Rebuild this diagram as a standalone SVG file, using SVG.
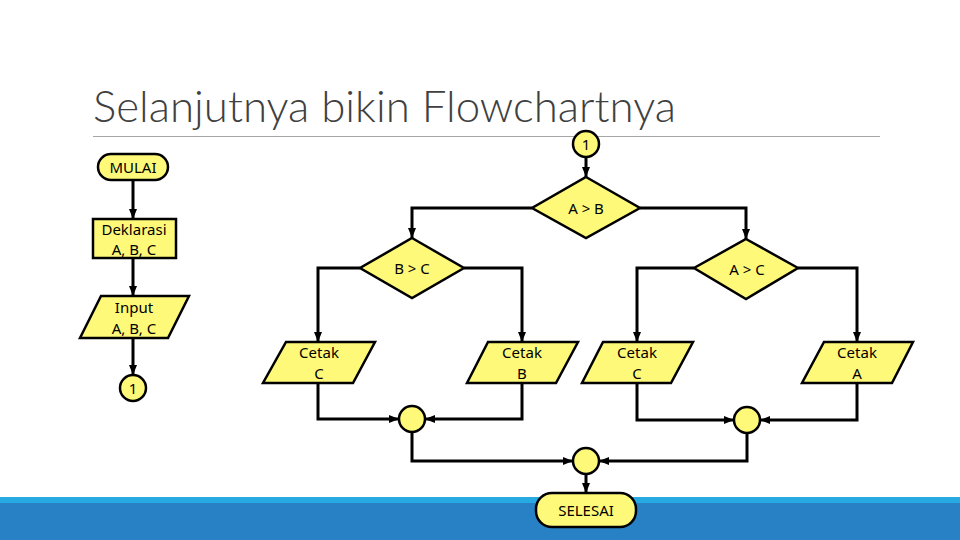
<svg xmlns="http://www.w3.org/2000/svg" width="960" height="540" viewBox="0 0 960 540">
<style>
.sh{fill:#FFF97A;stroke:#000;stroke-width:2.5}
.ln{fill:none;stroke:#000;stroke-width:3;marker-end:url(#ah)}
.t{font-family:"Noto Sans","DejaVu Sans",sans-serif;font-size:15px;fill:#000;text-anchor:middle;dominant-baseline:central}
</style>
<defs>
<marker id="ah" markerUnits="userSpaceOnUse" markerWidth="10" markerHeight="10" viewBox="0 0 10 10" refX="10" refY="5" orient="auto">
<path d="M0,1 L10,5 L0,9 Z" fill="#000"/>
</marker>
</defs>
<rect x="0" y="0" width="960" height="540" fill="#fff"/>
<rect x="0" y="497" width="960" height="7" fill="#27A9E1"/>
<rect x="0" y="503" width="960" height="37" fill="#2981C5"/>
<text x="93" y="122" font-family="Lato,'Open Sans',sans-serif" font-weight="300" font-size="43" textLength="583" lengthAdjust="spacingAndGlyphs" fill="#404040">Selanjutnya bikin Flowchartnya</text>
<line x1="93" y1="136.5" x2="880" y2="136.5" stroke="#A6A6A6" stroke-width="1"/>
<g id="connectors">
<path class="ln" d="M133,180 V219"/>
<path class="ln" d="M133,258 V296"/>
<path class="ln" d="M133,338 V375"/>
<path class="ln" d="M586,157 V177"/>
<path class="ln" d="M532,208 H412 V238"/>
<path class="ln" d="M640,208 H746 V239"/>
<path class="ln" d="M360,268 H318 V342"/>
<path class="ln" d="M464,268 H522 V342"/>
<path class="ln" d="M694,268 H637 V342"/>
<path class="ln" d="M798,268 H857 V342"/>
<path class="ln" d="M318,383 V419 H399"/>
<path class="ln" d="M522,383 V419 H425"/>
<path class="ln" d="M637,383 V420 H734"/>
<path class="ln" d="M857,383 V420 H760"/>
<path class="ln" d="M412,432 V461 H573"/>
<path class="ln" d="M747,433 V461 H599"/>
<path class="ln" d="M586,474 V493"/>
</g>
<g id="mulai"><rect class="sh" x="98" y="154" width="70" height="26" rx="13"/><text class="t" x="133" y="167">MULAI</text></g>
<g id="deklarasi"><rect class="sh" x="93" y="219" width="83" height="39"/><text class="t" x="134" y="229">Deklarasi</text><text class="t" x="134" y="249">A, B, C</text></g>
<g id="input"><polygon class="sh" points="101,296 189,296 168,338 80,338"/><text class="t" x="134" y="307">Input</text><text class="t" x="134" y="328">A, B, C</text></g>
<g id="con1a"><circle class="sh" cx="133" cy="388" r="13"/><text class="t" x="133" y="388">1</text></g>
<g id="con1b"><circle class="sh" cx="586" cy="144" r="13"/><text class="t" x="586" y="144">1</text></g>
<g id="ab"><polygon class="sh" points="586,177 640,208 586,238 532,208"/><text class="t" x="586" y="208">A &gt; B</text></g>
<g id="bc"><polygon class="sh" points="412,238 464,268 412,298 360,268"/><text class="t" x="412" y="268">B &gt; C</text></g>
<g id="ac"><polygon class="sh" points="746,239 798,268 746,299 694,268"/><text class="t" x="747" y="269">A &gt; C</text></g>
<g id="cetakC1"><polygon class="sh" points="286,342 375,342 353,383 263,383"/><text class="t" x="319" y="352">Cetak</text><text class="t" x="319" y="373">C</text></g>
<g id="cetakB"><polygon class="sh" points="488,342 578,342 556,383 467,383"/><text class="t" x="522" y="352">Cetak</text><text class="t" x="522" y="373">B</text></g>
<g id="cetakC2"><polygon class="sh" points="603,342 693,342 671,383 582,383"/><text class="t" x="637" y="352">Cetak</text><text class="t" x="637" y="373">C</text></g>
<g id="cetakA"><polygon class="sh" points="824,342 913,342 892,383 802,383"/><text class="t" x="857" y="352">Cetak</text><text class="t" x="857" y="373">A</text></g>
<g id="m1"><circle class="sh" cx="412" cy="419" r="13"/></g>
<g id="m2"><circle class="sh" cx="747" cy="420" r="13"/></g>
<g id="m3"><circle class="sh" cx="586" cy="461" r="13"/></g>
<g id="selesai"><rect class="sh" x="536" y="493" width="100" height="34" rx="16"/><text class="t" x="586" y="510">SELESAI</text></g>
</svg>
